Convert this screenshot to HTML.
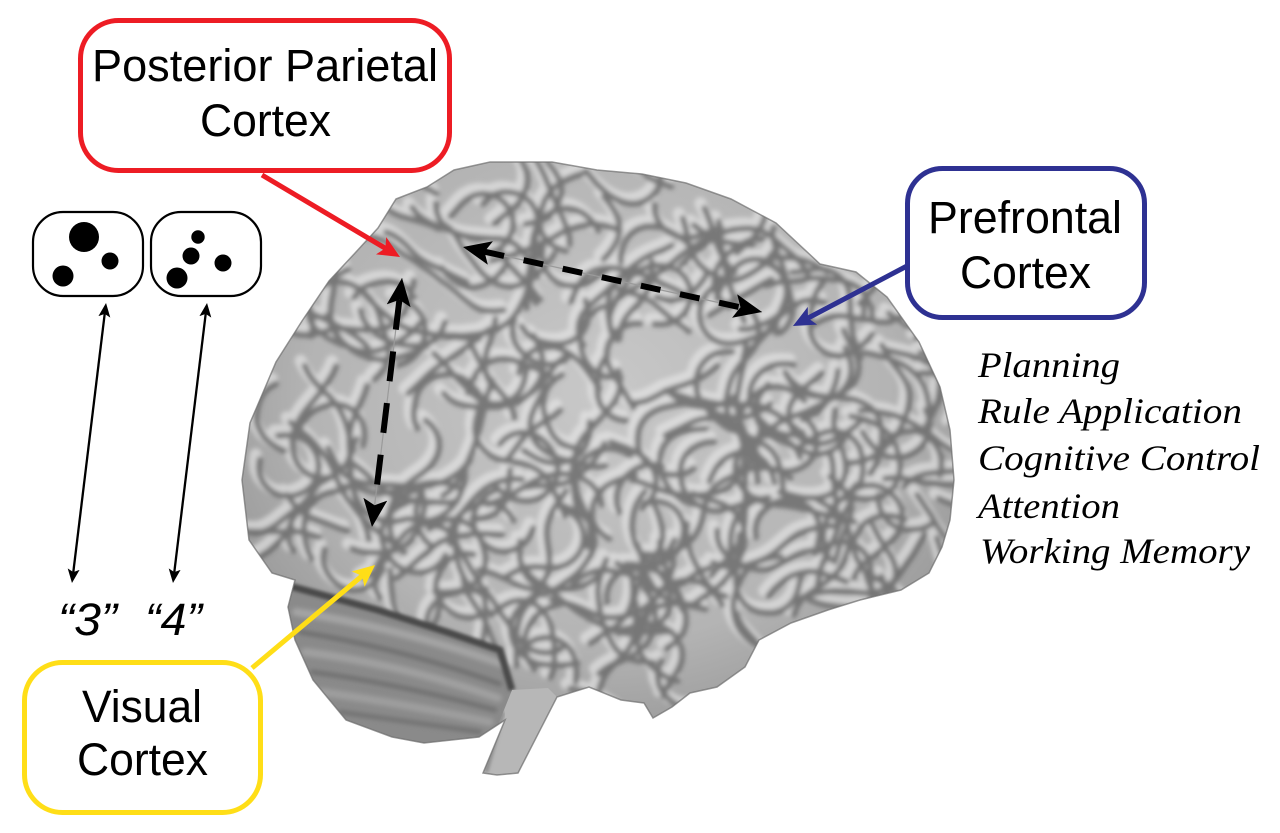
<!DOCTYPE html>
<html>
<head>
<meta charset="utf-8">
<style>
  html,body{margin:0;padding:0;background:#fff;}
  body{width:1280px;height:833px;overflow:hidden;}
  svg{display:block;}
  .sans{font-family:"Liberation Sans",Arial,sans-serif;}
  .serif{font-family:"Liberation Serif","Times New Roman",Times,serif;font-style:italic;}
</style>
</head>
<body>
<svg width="1280" height="833" viewBox="0 0 1280 833" xmlns="http://www.w3.org/2000/svg">
  <defs>
    <clipPath id="bc">
      <path d="M396 199 L427 187 L454 170 L490 162 L552 162 L597 170 L642 174 L686 183 L731 199 L776 223 L820 264 L856 272 L887 297 L919 342 L940 387 L950 430 L954 480 L950 520 L942 547 L929 573 L901 590 L860 600 L828 610 L791 623 L759 640 L745 667 L717 687 L690 693 L672 707 L653 718 L644 703 L621 700 L589 687 L557 697 L518 773 L497 775 L483 773 L505 720 L479 737 L424 743 L392 737 L346 720 L313 680 L295 640 L288 607 L295 580 L272 573 L249 540 L242 480 L250 423 L276 362 L302 321 L329 281 L356 252 L378 228 Z"/>
    </clipPath>
    <clipPath id="cc">
      <path d="M286 585 L378 610 L447 632 L500 650 L512 690 L505 720 L479 737 L424 743 L392 737 L346 720 L313 680 L295 640 L285 607 Z"/>
    </clipPath>
    <radialGradient id="bg" cx="0.5" cy="0.38" r="0.65">
      <stop offset="0" stop-color="#c8c8c8"/>
      <stop offset="0.6" stop-color="#b4b4b4"/>
      <stop offset="1" stop-color="#8a8a8a"/>
    </radialGradient>
    <filter id="bl" x="-10%" y="-10%" width="120%" height="120%"><feGaussianBlur stdDeviation="2.4"/></filter>
    <filter id="bl2" x="-10%" y="-10%" width="120%" height="120%"><feGaussianBlur stdDeviation="1.6"/></filter>

    <marker id="mk" viewBox="0 0 28 24" refX="6" refY="12" markerWidth="28" markerHeight="24" markerUnits="userSpaceOnUse" orient="auto-start-reverse">
      <path d="M0,0 L28,12 L0,24 L6,12 Z" fill="#000"/>
    </marker>
    <marker id="mt" viewBox="0 0 14 12" refX="3" refY="6" markerWidth="14" markerHeight="12" markerUnits="userSpaceOnUse" orient="auto-start-reverse">
      <path d="M0,0 L14,6 L0,12 L3,6 Z" fill="#000"/>
    </marker>
    <marker id="mr" viewBox="0 0 22 20" refX="5" refY="10" markerWidth="22" markerHeight="20" markerUnits="userSpaceOnUse" orient="auto">
      <path d="M0,0 L22,10 L0,20 L5,10 Z" fill="#ED1C24"/>
    </marker>
    <marker id="mb" viewBox="0 0 22 20" refX="5" refY="10" markerWidth="22" markerHeight="20" markerUnits="userSpaceOnUse" orient="auto">
      <path d="M0,0 L22,10 L0,20 L5,10 Z" fill="#2E3192"/>
    </marker>
    <marker id="my" viewBox="0 0 22 20" refX="5" refY="10" markerWidth="22" markerHeight="20" markerUnits="userSpaceOnUse" orient="auto">
      <path d="M0,0 L22,10 L0,20 L5,10 Z" fill="#FFDE17"/>
    </marker>
  </defs>

  <!-- BRAIN -->
  <g clip-path="url(#bc)">
    <rect x="230" y="150" width="740" height="640" fill="url(#bg)"/>
    <g filter="url(#bl)" fill="none" stroke-linecap="round" stroke-linejoin="round">
      <g id="texL" transform="translate(-4,-5)" stroke="#e6e6e6" stroke-width="12" opacity="0.65"></g>
      <g id="texD" stroke="#505050" stroke-width="6" opacity="0.7"></g>
    </g>
    <!-- cerebellum -->
    <g clip-path="url(#cc)">
      <rect x="280" y="580" width="240" height="170" fill="#8a8a8a"/>
      <g filter="url(#bl)" fill="none" stroke-linecap="round">
        <path d="M296 612 Q400 628 505 665" stroke="#a4a4a4" stroke-width="8"/>
        <path d="M300 632 Q400 648 500 684" stroke="#6a6a6a" stroke-width="4"/>
        <path d="M305 652 Q400 664 498 698" stroke="#a0a0a0" stroke-width="8"/>
        <path d="M312 672 Q400 684 495 710" stroke="#6c6c6c" stroke-width="4"/>
        <path d="M322 692 Q405 704 490 722" stroke="#9e9e9e" stroke-width="8"/>
        <path d="M340 712 Q410 722 480 732" stroke="#6e6e6e" stroke-width="4"/>
      </g>
    </g>
    <path d="M286 585 L378 610 L447 632 L500 650 L512 690" fill="none" stroke="#4a4a4a" stroke-width="7" filter="url(#bl2)"/>
    <!-- brainstem -->
    <path d="M512 690 L548 688 L557 697 L518 773 L497 775 L483 773 L500 720 Z" fill="#b7b7b7"/>
    <path d="M503 712 L486 772" stroke="#8a8a8a" stroke-width="4" fill="none" filter="url(#bl2)"/>
  </g>
  <path d="M396 199 L427 187 L454 170 L490 162 L552 162 L597 170 L642 174 L686 183 L731 199 L776 223 L820 264 L856 272 L887 297 L919 342 L940 387 L950 430 L954 480 L950 520 L942 547 L929 573 L901 590 L860 600 L828 610 L791 623 L759 640 L745 667 L717 687 L690 693 L672 707 L653 718 L644 703 L621 700 L589 687 L557 697 L518 773 L497 775 L483 773 L505 720 L479 737 L424 743 L392 737 L346 720 L313 680 L295 640 L288 607 L295 580 L272 573 L249 540 L242 480 L250 423 L276 362 L302 321 L329 281 L356 252 L378 228 Z" fill="none" stroke="#6e6e6e" stroke-width="1.5" opacity="0.7"/>

  <!-- dashed black double arrows -->
  <line x1="463" y1="247" x2="762" y2="312" stroke="#9a9a9a" stroke-width="1.2"/>
  <line x1="402" y1="278" x2="372" y2="527" stroke="#9a9a9a" stroke-width="1.2"/>
  <path d="M484.5 251.7 L740.5 307.3" stroke="#000" stroke-width="6" stroke-dasharray="20 20" fill="none" marker-start="url(#mk)" marker-end="url(#mk)"/>
  <path d="M399.4 299.8 L374.6 505.2" stroke="#000" stroke-width="6" stroke-dasharray="30 22" fill="none" marker-start="url(#mk)" marker-end="url(#mk)"/>

  <!-- dot boxes -->
  <rect x="33" y="212" width="110" height="84" rx="30" ry="30" fill="#fff" stroke="#000" stroke-width="2.2"/>
  <rect x="151" y="212" width="110" height="84" rx="30" ry="30" fill="#fff" stroke="#000" stroke-width="2.2"/>
  <circle cx="84" cy="237" r="15" fill="#000"/>
  <circle cx="110" cy="261" r="8.5" fill="#000"/>
  <circle cx="63" cy="276" r="10.5" fill="#000"/>
  <circle cx="198" cy="237" r="6.7" fill="#000"/>
  <circle cx="191" cy="256" r="8.5" fill="#000"/>
  <circle cx="223" cy="263" r="8.5" fill="#000"/>
  <circle cx="177" cy="278" r="10.5" fill="#000"/>

  <!-- thin double arrows -->
  <path d="M104.7 313.9 L73.3 572.1" stroke="#000" stroke-width="2.3" fill="none" marker-start="url(#mt)" marker-end="url(#mt)"/>
  <path d="M205.7 313.9 L174.3 572.1" stroke="#000" stroke-width="2.3" fill="none" marker-start="url(#mt)" marker-end="url(#mt)"/>

  <text class="sans" x="58" y="635" font-size="45" font-style="italic" textLength="59" lengthAdjust="spacingAndGlyphs">“3”</text>
  <text class="sans" x="145" y="635" font-size="45" font-style="italic" textLength="57" lengthAdjust="spacingAndGlyphs">“4”</text>

  <!-- colored callout arrows -->
  <path d="M262 175 L385.4 248.3" stroke="#ED1C24" stroke-width="5" fill="none" marker-end="url(#mr)"/>
  <path d="M907 266 L808 318.1" stroke="#2E3192" stroke-width="5" fill="none" marker-end="url(#mb)"/>
  <path d="M252 668 L362 575.9" stroke="#FFDE17" stroke-width="5" fill="none" marker-end="url(#my)"/>

  <!-- callout boxes -->
  <rect x="80.5" y="20.5" width="369" height="150" rx="38" ry="38" fill="#fff" stroke="#ED1C24" stroke-width="5"/>
  <text class="sans" x="92" y="81" font-size="45" textLength="346" lengthAdjust="spacingAndGlyphs">Posterior Parietal</text>
  <text class="sans" x="200" y="136" font-size="45" textLength="131" lengthAdjust="spacingAndGlyphs">Cortex</text>

  <rect x="907.5" y="168.5" width="237" height="149" rx="35" ry="35" fill="#fff" stroke="#2E3192" stroke-width="5"/>
  <text class="sans" x="928" y="233" font-size="45" textLength="194" lengthAdjust="spacingAndGlyphs">Prefrontal</text>
  <text class="sans" x="960" y="288" font-size="45" textLength="131" lengthAdjust="spacingAndGlyphs">Cortex</text>

  <rect x="24.5" y="662.5" width="236" height="150" rx="38" ry="38" fill="#fff" stroke="#FFDE17" stroke-width="5"/>
  <text class="sans" x="82" y="722" font-size="45" textLength="120" lengthAdjust="spacingAndGlyphs">Visual</text>
  <text class="sans" x="77" y="775" font-size="45" textLength="131" lengthAdjust="spacingAndGlyphs">Cortex</text>

  <!-- function list -->
  <text class="serif" x="978" y="377" font-size="36" textLength="142" lengthAdjust="spacingAndGlyphs">Planning</text>
  <text class="serif" x="978" y="423" font-size="36" textLength="264" lengthAdjust="spacingAndGlyphs">Rule Application</text>
  <text class="serif" x="978" y="470" font-size="36" textLength="282" lengthAdjust="spacingAndGlyphs">Cognitive Control</text>
  <text class="serif" x="978" y="518" font-size="36" textLength="142" lengthAdjust="spacingAndGlyphs">Attention</text>
  <text class="serif" x="980" y="563" font-size="36" textLength="270" lengthAdjust="spacingAndGlyphs">Working Memory</text>
</svg>
<script>
(function(){
  var s=9173;function r(){s=(s*16807)%2147483647;return (s-1)/2147483646;}
  var NS='http://www.w3.org/2000/svg';
  var L=document.getElementById('texL'),D=document.getElementById('texD');
  var P=[[396,199],[427,187],[454,170],[490,162],[552,162],[597,170],[642,174],[686,183],[731,199],[776,223],[820,264],[856,272],[887,297],[919,342],[940,387],[950,430],[954,480],[950,520],[942,547],[929,573],[901,590],[860,600],[828,610],[791,623],[759,640],[745,667],[717,687],[690,693],[672,707],[653,718],[644,703],[621,700],[589,687],[557,697],[518,680],[479,650],[424,630],[340,600],[295,580],[272,573],[249,540],[242,480],[250,423],[276,362],[302,321],[329,281],[356,252],[378,228]];
  function inside(x,y){var c=false;for(var i=0,j=P.length-1;i<P.length;j=i++){var xi=P[i][0],yi=P[i][1],xj=P[j][0],yj=P[j][1];if(((yi>y)!=(yj>y))&&(x<(xj-xi)*(y-yi)/(yj-yi)+xi))c=!c;}return c;}
  for(var i=0;i<230;i++){
    var x,y,t=0;do{x=235+r()*725;y=155+r()*570;t++;}while(!inside(x,y)&&t<50);
    var a=r()*6.283,da=(r()-0.5)*0.3,n=8+Math.floor(r()*14),d='M'+x.toFixed(1)+' '+y.toFixed(1);
    for(var k=0;k<n;k++){da+=(r()-0.5)*0.3;if(da>0.28)da=0.28;if(da<-0.28)da=-0.28;a+=da;x+=Math.cos(a)*8;y+=Math.sin(a)*8;d+=' L'+x.toFixed(1)+' '+y.toFixed(1);}
    var p1=document.createElementNS(NS,'path');p1.setAttribute('d',d);L.appendChild(p1);
    var p2=document.createElementNS(NS,'path');p2.setAttribute('d',d);D.appendChild(p2);
  }
})();
</script>
</body>
</html>
